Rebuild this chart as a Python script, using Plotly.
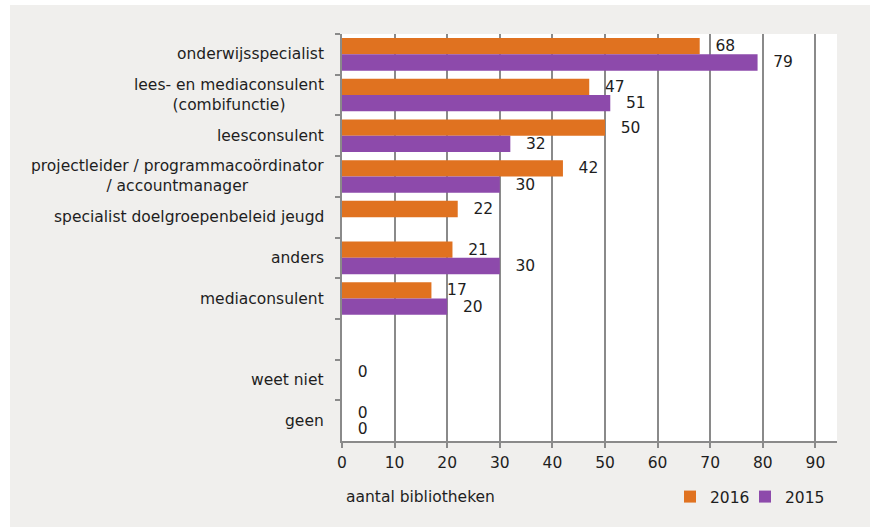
import plotly.graph_objects as go

categories = [
    "onderwijsspecialist",
    "lees- en mediaconsulent<br>(combifunctie)",
    "leesconsulent",
    "projectleider / programmacoördinator<br>/ accountmanager",
    "specialist doelgroepenbeleid jeugd",
    "anders",
    "mediaconsulent",
    " ",
    "weet niet",
    "geen",
]
values_2016 = [68, 47, 50, 42, 22, 21, 17, None, 0, 0]
values_2015 = [79, 51, 32, 30, None, 30, 20, None, None, 0]
series_names = ["2016", "2015"]
x_ticks = [0, 10, 20, 30, 40, 50, 60, 70, 80, 90]
x_title = "aantal bibliotheken"

FONT = "DejaVu Sans"
FS = 15.5
TXT = "#1e1e1e"
GRID = "#8a8a8a"
BG = "#f0efed"
COLORS = ["#e07220", "#8d4aab"]

W, H = 870, 527
L, R, T, B = 342, 33, 34, 86
pw, ph = W - L - R, H - T - B

def px_x(x):
    return (x - L) / pw

def px_y(y):
    return (H - B - y) / ph

fig = go.Figure()
legend_ids = ["legend", "legend2"]
for name, vals, col, lg in zip(series_names, [values_2016, values_2015], COLORS, legend_ids):
    fig.add_trace(go.Bar(
        name=name,
        y=categories,
        x=vals,
        orientation="h",
        marker=dict(color=col, line=dict(width=0)),
        text=[None if v is None else str(v) for v in vals],
        texttemplate="\u2002\u00a0%{text}",
        textposition="outside",
        constraintext="none",
        cliponaxis=False,
        textfont=dict(family=FONT, size=FS, color=TXT),
        hoverinfo="skip",
        legend=lg,
    ))

annotations = []
for c in categories:
    annotations.append(dict(
        x=px_x(326), xref="paper", y=c, yref="y",
        text=c, showarrow=False, xanchor="right", yanchor="middle",
        align="center", font=dict(family=FONT, size=FS, color=TXT),
    ))
annotations.append(dict(
    x=px_x(344), xref="paper", y=px_y(497), yref="paper",
    text=x_title, showarrow=False, xanchor="left", yanchor="middle",
    font=dict(family=FONT, size=FS, color=TXT),
))

shapes = [
    dict(type="rect", xref="paper", yref="paper", x0=px_x(0), x1=px_x(10),
         y0=px_y(H), y1=px_y(0), fillcolor="white", line=dict(width=0), layer="below"),
    dict(type="rect", xref="paper", yref="paper", x0=px_x(0), x1=px_x(W),
         y0=px_y(5), y1=px_y(0), fillcolor="white", line=dict(width=0), layer="below"),
]

legend_common = dict(
    orientation="h", yanchor="middle", y=px_y(497), xanchor="left",
    font=dict(family=FONT, size=FS, color=TXT), bgcolor="rgba(0,0,0,0)",
    itemwidth=30,
)

fig.update_layout(
    width=W, height=H,
    margin=dict(l=L, r=R, t=T, b=B, pad=0),
    paper_bgcolor=BG,
    plot_bgcolor="white",
    barmode="group",
    bargap=0.2,
    bargroupgap=0,
    font=dict(family=FONT, size=FS, color=TXT),
    showlegend=True,
    legend=dict(x=px_x(670), **legend_common),
    legend2=dict(x=px_x(745), **legend_common),
    annotations=annotations,
    shapes=shapes,
)
fig.update_xaxes(
    range=[0, 94.1], tickvals=x_ticks, ticktext=[str(t) for t in x_ticks],
    showgrid=True, gridcolor=GRID, gridwidth=1.5,
    showline=True, linecolor=GRID, linewidth=1.5,
    ticks="outside", ticklen=5, tickcolor=GRID, tickwidth=1.5,
    tickfont=dict(family=FONT, size=FS, color=TXT),
    ticklabelstandoff=2, zeroline=False,
)
fig.update_yaxes(
    type="category", autorange="reversed",
    showgrid=False, showticklabels=False,
    showline=True, linecolor=GRID, linewidth=1.5,
    ticks="outside", ticklen=5, tickcolor=GRID, tickwidth=1.5,
    tickson="boundaries", zeroline=False,
)

fig.write_html(
    "out.html",
    config={"displayModeBar": False},
    post_script="document.body.style.margin='0';document.body.style.padding='0';",
)
